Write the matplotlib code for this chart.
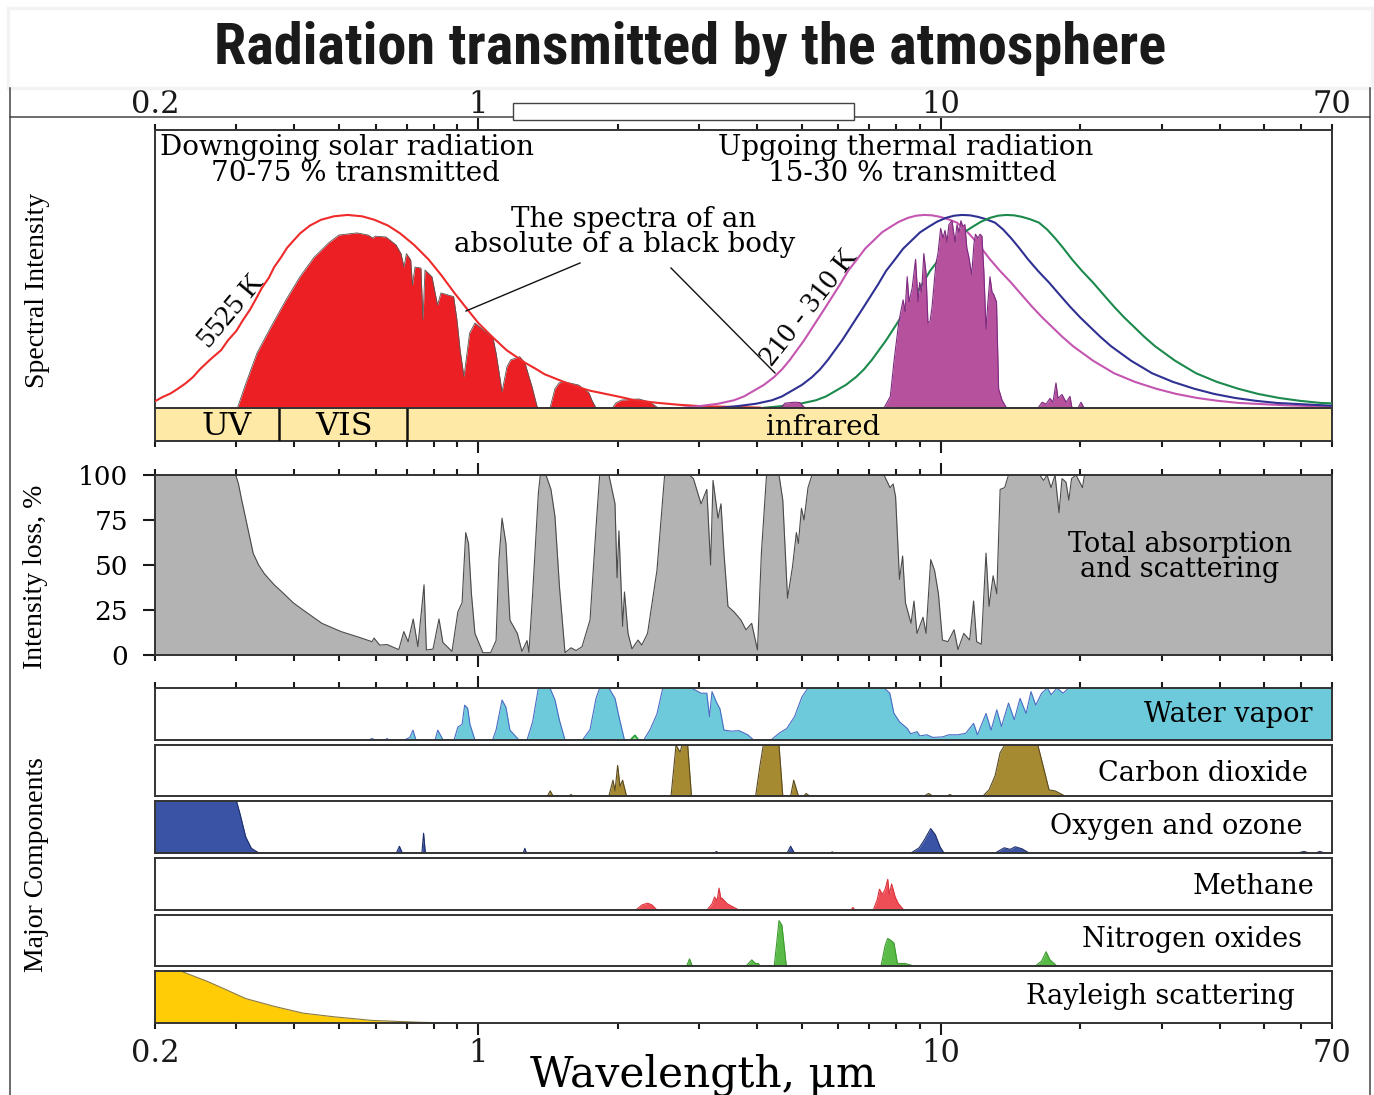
import matplotlib
matplotlib.use("Agg")
import matplotlib.pyplot as plt
from matplotlib.ticker import FixedLocator, NullFormatter
from matplotlib.patches import Rectangle
from matplotlib.lines import Line2D
from matplotlib.transforms import blended_transform_factory

W, H = 1374, 1095

# wavelength axis (micrometres)
axis_numbers = [0.2, 1, 10, 70]
axis_number_labels = ["0.2", "1", "10", "70"]
major_wl = [1, 10]
minor_wl = [0.2, 0.3, 0.4, 0.5, 0.6, 0.7, 0.8, 0.9, 2, 3, 4, 5, 6, 7, 8, 9,
            20, 30, 40, 50, 60, 70]

band_names = ["UV", "VIS", "infrared"]
band_edges = [0.2, 0.37, 0.70, 70]

# black body 5525 K (relative intensity)
sun_bb = [(0.2, 0.035), (0.207, 0.055), (0.216, 0.075), (0.2242, 0.1), (0.233, 0.128),
          (0.2416, 0.16), (0.250, 0.2), (0.263, 0.25), (0.278, 0.30), (0.2875, 0.35),
          (0.300, 0.40), (0.3098, 0.455), (0.321, 0.51), (0.3306, 0.565), (0.340, 0.62),
          (0.3526, 0.675), (0.362, 0.73), (0.3744, 0.78), (0.386, 0.83), (0.3995, 0.87),
          (0.412, 0.905), (0.4325, 0.945), (0.457, 0.975), (0.4874, 0.993), (0.521, 1.0),
          (0.5603, 0.993), (0.596, 0.975), (0.6377, 0.945), (0.677, 0.905), (0.7259, 0.845),
          (0.78, 0.77), (0.8302, 0.69), (0.885, 0.60), (0.9401, 0.52), (1.0, 0.44),
          (1.070, 0.37), (1.15, 0.30), (1.26, 0.235), (1.326, 0.205), (1.39, 0.175),
          (1.53, 0.135), (1.658, 0.105), (1.74, 0.09), (2.0, 0.06), (2.181, 0.04),
          (2.43, 0.027), (2.701, 0.017), (3.0, 0.01), (4.06, 0.002)]

# solar radiation reaching the ground
sun_ground = [(0.3014, 0), (0.3146, 0.13), (0.3323, 0.285), (0.3561, 0.42), (0.3838, 0.56),
              (0.4115, 0.68), (0.4411, 0.78), (0.4744, 0.855), (0.4995, 0.896), (0.5464, 0.907),
              (0.5772, 0.896), (0.5918, 0.88), (0.598, 0.89), (0.6313, 0.886), (0.6636, 0.845),
              (0.6803, 0.80), (0.6906, 0.73), (0.6989, 0.80), (0.714, 0.767), (0.7204, 0.637),
              (0.7294, 0.73), (0.7513, 0.725), (0.7589, 0.456), (0.7666, 0.715), (0.7937, 0.68),
              (0.8159, 0.534), (0.8302, 0.596), (0.884, 0.577), (0.899, 0.456), (0.913, 0.30),
              (0.9308, 0.162), (0.9572, 0.388), (0.983, 0.44), (1.0755, 0.363), (1.092, 0.285),
              (1.125, 0.085), (1.153, 0.214), (1.174, 0.249), (1.228, 0.266), (1.261, 0.233),
              (1.306, 0.11), (1.342, 0), (1.428, 0), (1.464, 0.1), (1.494, 0.13), (1.531, 0.136),
              (1.647, 0.119), (1.734, 0.078), (1.76, 0.04), (1.796, 0), (1.95, 0), (1.98, 0.025),
              (2.038, 0.041), (2.224, 0.047), (2.35, 0.03), (2.432, 0.005), (2.45, 0)]

# black bodies 310 K, 260 K, 210 K
bb_310_wl = [2.73, 3.013, 3.296, 3.568, 3.752, 3.943, 4.144, 4.355, 4.532, 4.716,
             4.883, 5.057, 5.315, 5.587, 5.814, 6.050, 6.296, 6.584, 6.852, 7.166,
             7.457, 7.798, 8.115, 8.486, 8.831, 9.190, 9.562, 9.950, 10.355, 10.829,
             11.270, 11.727, 12.203, 12.762, 13.413, 14.167, 14.891, 15.730, 16.533, 17.378,
             18.265, 19.293, 21.310, 23.658, 26.264, 29.158, 32.211, 35.760, 39.700, 44.074,
             55.41, 70]
bb_310_val = [0, 0.01, 0.022, 0.04, 0.06, 0.09, 0.12, 0.16, 0.20, 0.25,
              0.30, 0.35, 0.43, 0.51, 0.575, 0.64, 0.71, 0.77, 0.825, 0.87,
              0.91, 0.94, 0.965, 0.985, 0.996, 1.0, 0.998, 0.99, 0.978, 0.96,
              0.925, 0.88, 0.83, 0.77, 0.71, 0.65, 0.59, 0.525, 0.47, 0.42,
              0.37, 0.32, 0.245, 0.18, 0.135, 0.10, 0.073, 0.052, 0.037, 0.026,
              0.014, 0.007]
bb_260_wl = [3.298, 3.640, 3.982, 4.311, 4.533, 4.764, 5.007, 5.262, 5.476, 5.698,
             5.900, 6.110, 6.422, 6.750, 7.025, 7.310, 7.607, 7.955, 8.279, 8.658,
             9.010, 9.422, 9.805, 10.253, 10.670, 11.103, 11.553, 12.022, 12.511, 13.084,
             13.616, 14.169, 14.744, 15.419, 16.206, 17.117, 17.991, 19.005, 19.975, 20.996,
             22.068, 23.310, 25.747, 28.584, 31.732, 35.229, 38.917, 43.205, 47.966, 53.250,
             66.95, 70]
bb_260_val = [0, 0.01, 0.022, 0.04, 0.06, 0.09, 0.12, 0.16, 0.20, 0.25,
              0.30, 0.35, 0.43, 0.51, 0.575, 0.64, 0.71, 0.77, 0.825, 0.87,
              0.91, 0.94, 0.965, 0.985, 0.996, 1.0, 0.998, 0.99, 0.978, 0.96,
              0.925, 0.88, 0.83, 0.77, 0.71, 0.65, 0.59, 0.525, 0.47, 0.42,
              0.37, 0.32, 0.245, 0.18, 0.135, 0.10, 0.073, 0.052, 0.037, 0.026,
              0.014, 0.012]
bb_210_wl = [4.105, 4.531, 4.957, 5.366, 5.642, 5.930, 6.232, 6.549, 6.815, 7.092,
             7.343, 7.605, 7.993, 8.402, 8.743, 9.098, 9.468, 9.901, 10.304, 10.776,
             11.214, 11.727, 12.203, 12.761, 13.280, 13.820, 14.379, 14.963, 15.572, 16.285,
             16.948, 17.635, 18.351, 19.191, 20.171, 21.304, 22.393, 23.655, 24.862, 26.133,
             27.467, 29.013, 32.046, 35.577, 39.496, 43.848, 48.439, 53.776, 59.701, 66.279,
             70]
bb_210_val = [0, 0.01, 0.022, 0.04, 0.06, 0.09, 0.12, 0.16, 0.20, 0.25,
              0.30, 0.35, 0.43, 0.51, 0.575, 0.64, 0.71, 0.77, 0.825, 0.87,
              0.91, 0.94, 0.965, 0.985, 0.996, 1.0, 0.998, 0.99, 0.978, 0.96,
              0.925, 0.88, 0.83, 0.77, 0.71, 0.65, 0.59, 0.525, 0.47, 0.42,
              0.37, 0.32, 0.245, 0.18, 0.135, 0.10, 0.073, 0.052, 0.037, 0.026,
              0.024]

# thermal radiation escaping to space
earth_space = [(4.5, 0), (4.6, 0.025), (4.83, 0.03), (4.95, 0.028), (5.08, 0),
               (7.53, 0), (7.77, 0.06), (7.92, 0.25), (8.11, 0.45), (8.28, 0.56), (8.36, 0.50),
               (8.45, 0.68), (8.53, 0.55), (8.66, 0.62), (8.81, 0.77), (8.92, 0.55), (8.99, 0.65),
               (9.08, 0.60), (9.18, 0.80), (9.28, 0.70), (9.37, 0.44), (9.47, 0.45), (9.56, 0.52),
               (9.75, 0.75), (9.85, 0.80), (9.98, 0.93), (10.10, 0.88), (10.20, 0.92),
               (10.30, 0.86), (10.40, 0.95), (10.56, 0.97), (10.72, 0.86), (10.83, 0.95),
               (10.94, 0.91), (11.04, 0.97), (11.15, 0.94), (11.26, 0.95), (11.37, 0.83),
               (11.49, 0.78), (11.65, 0.69), (11.78, 0.85), (11.87, 0.90), (12.02, 0.88),
               (12.14, 0.90), (12.26, 0.89), (12.38, 0.70), (12.51, 0.41), (12.63, 0.55),
               (12.76, 0.68), (12.89, 0.60), (12.99, 0.59), (13.18, 0.55), (13.32, 0.10),
               (13.55, 0.04), (13.86, 0),
               (16.21, 0), (16.54, 0.03), (16.87, 0.02), (17.20, 0.05), (17.46, 0.03),
               (17.72, 0.13), (17.90, 0.05), (18.26, 0.07), (18.63, 0.03), (19.00, 0.06),
               (19.19, 0), (19.78, 0), (20.07, 0.03), (20.37, 0)]

# total absorption and scattering, %
loss = [(0.2, 100), (0.299, 100), (0.303, 95), (0.308, 86), (0.317, 71), (0.326, 56.5),
        (0.335, 50), (0.345, 45), (0.362, 39), (0.380, 34), (0.398, 29), (0.418, 25),
        (0.459, 17.6), (0.505, 13), (0.55, 10), (0.589, 7.4),
        (0.595, 9.4), (0.612, 5.5), (0.635, 5.8), (0.673, 3), (0.690, 13), (0.705, 7.4),
        (0.723, 20), (0.740, 4.6), (0.763, 39), (0.772, 2.8), (0.798, 3.3), (0.822, 20),
        (0.838, 7), (0.877, 2), (0.903, 24), (0.922, 29), (0.939, 68), (0.952, 62),
        (0.966, 34), (0.983, 12), (1.023, 1.3), (1.063, 1.3), (1.092, 8), (1.108, 53),
        (1.125, 76), (1.147, 62), (1.170, 19.4), (1.214, 12), (1.242, 2), (1.274, 8),
        (1.286, 1.5), (1.310, 34), (1.348, 90), (1.361, 100), (1.400, 100), (1.435, 92),
        (1.464, 77), (1.497, 38), (1.539, 1.3), (1.586, 4), (1.626, 2.5), (1.675, 4.6),
        (1.743, 19.4), (1.796, 71), (1.829, 100), (1.915, 100), (1.974, 84), (1.994, 43),
        (2.013, 69), (2.050, 16), (2.069, 35), (2.106, 12), (2.148, 3.4), (2.213, 8.3),
        (2.255, 5.5), (2.321, 12), (2.432, 47), (2.527, 100), (2.861, 100), (2.916, 98),
        (3.029, 84), (3.117, 92), (3.177, 50), (3.215, 97), (3.296, 76), (3.345, 84),
        (3.395, 56.5), (3.463, 27), (3.568, 24), (3.695, 19.4), (3.788, 14), (3.897, 17.6),
        (4.011, 2.8), (4.090, 56.6), (4.196, 100), (4.465, 100), (4.550, 86), (4.658, 31.5),
        (4.775, 49), (4.868, 68), (4.917, 62), (4.993, 81.5), (5.057, 75), (5.158, 93),
        (5.262, 100), (7.530, 100), (7.759, 93), (7.88, 95), (7.976, 88), (8.133, 42),
        (8.260, 55), (8.377, 29), (8.613, 17.6), (8.741, 30), (8.873, 12), (9.143, 21),
        (9.281, 12), (9.500, 53), (9.683, 47), (9.872, 34), (10.07, 8.3), (10.35, 7.4),
        (10.67, 14), (10.88, 3), (11.20, 12), (11.53, 8.3), (11.76, 30), (11.94, 7.4),
        (12.22, 6), (12.51, 56.6), (12.70, 27), (12.96, 44), (13.20, 34), (13.42, 92),
        (13.73, 93), (13.99, 100), (16.34, 100), (16.66, 97), (16.95, 100), (17.29, 93),
        (17.64, 100), (17.99, 79), (18.26, 98), (18.63, 96), (18.89, 86), (19.15, 98),
        (19.58, 100), (20.22, 93), (20.42, 100), (70, 100)]

# major components (relative absorption)
water_vapor = [(0.58, 0), (0.589, 0.03), (0.597, 0), (0.63, 0), (0.635, 0.03), (0.64, 0),
               (0.692, 0), (0.711, 0.05), (0.722, 0.19), (0.733, 0), (0.806, 0), (0.817, 0.19),
               (0.839, 0), (0.886, 0), (0.903, 0.25), (0.922, 0.3), (0.934, 0.67), (0.948, 0.61),
               (0.959, 0.3), (0.983, 0), (1.073, 0), (1.092, 0.19), (1.125, 0.77), (1.147, 0.63),
               (1.170, 0.19), (1.224, 0), (1.274, 0), (1.310, 0.35), (1.348, 1.0), (1.428, 1.0),
               (1.464, 0.77), (1.497, 0.38), (1.539, 0), (1.679, 0), (1.743, 0.2), (1.796, 0.8),
               (1.829, 1.0), (1.915, 1.0), (1.974, 0.8), (2.013, 0.45), (2.069, 0), (2.277, 0),
               (2.350, 0.2), (2.432, 0.5), (2.504, 1.0), (2.888, 1.0), (3.029, 0.9), (3.117, 0.9),
               (3.159, 0.45), (3.199, 0.93), (3.269, 0.73), (3.328, 0.6), (3.395, 0.19),
               (3.528, 0.17), (3.658, 0.18), (3.823, 0.1), (3.935, 0), (4.291, 0), (4.465, 0.13),
               (4.640, 0.22), (4.824, 0.45), (5.005, 0.83), (5.158, 1.0), (7.530, 1.0),
               (7.751, 0.9), (7.904, 0.52), (8.133, 0.35), (8.456, 0.22), (8.6, 0.12),
               (8.873, 0.16), (9.0, 0.08), (9.318, 0.1), (9.6, 0.05), (10.07, 0.06),
               (10.4, 0.1), (10.88, 0.1), (11.31, 0.13), (11.76, 0.32), (11.99, 0.1),
               (12.51, 0.51), (12.83, 0.19), (13.20, 0.58), (13.51, 0.26), (13.99, 0.71),
               (14.40, 0.39), (14.82, 0.80), (15.27, 0.51), (15.65, 0.93), (16.02, 0.67),
               (16.50, 0.9), (16.98, 1.0), (17.30, 0.87), (17.81, 1.0), (18.35, 0.9),
               (18.89, 1.0), (70, 1.0)]
water_vapor_green = [(2.13, 0), (2.18, 0.09), (2.22, 0)]
carbon_dioxide = [(1.41, 0), (1.43, 0.1), (1.45, 0), (1.57, 0), (1.586, 0.03), (1.60, 0),
                  (1.915, 0), (1.954, 0.31), (1.974, 0.1), (2.0, 0.6), (2.024, 0.19),
                  (2.05, 0.31), (2.09, 0), (2.609, 0), (2.648, 0.6), (2.674, 1.0), (2.729, 0.86),
                  (2.755, 1.0), (2.834, 1.0), (2.888, 0), (3.975, 0), (4.062, 0.6), (4.129, 1.0),
                  (4.465, 1.0), (4.55, 0), (4.731, 0), (4.804, 0.31), (4.917, 0), (5.05, 0),
                  (5.108, 0.05), (5.2, 0), (9.2, 0), (9.4, 0.05), (9.6, 0), (10.3, 0),
                  (10.45, 0.03), (10.6, 0), (12.32, 0), (12.70, 0.12), (13.09, 0.4),
                  (13.42, 0.85), (13.73, 1.0), (16.19, 1.0), (16.61, 0.6), (17.12, 0.12),
                  (17.64, 0.1), (18.54, 0)]
oxygen_ozone = [(0.2, 1.0), (0.3, 1.0), (0.3052, 0.76), (0.3141, 0.31), (0.3231, 0.09),
                (0.3356, 0), (0.665, 0), (0.675, 0.13), (0.685, 0), (0.755, 0), (0.7613, 0.38),
                (0.768, 0), (1.25, 0), (1.26, 0.09), (1.27, 0), (3.24, 0), (3.27, 0.03),
                (3.30, 0), (4.65, 0), (4.73, 0.13), (4.82, 0), (5.75, 0), (5.82, 0.02), (5.9, 0),
                (8.61, 0), (8.97, 0.1), (9.2, 0.25), (9.5, 0.47), (9.72, 0.35), (9.95, 0.12),
                (10.15, 0), (13.09, 0), (13.7, 0.1), (14.1, 0.07), (14.47, 0.12), (14.97, 0.08),
                (15.5, 0), (59, 0), (60.9, 0.03), (62.5, 0), (64.5, 0), (65.9, 0.03), (67.5, 0)]
methane = [(2.19, 0), (2.26, 0.1), (2.321, 0.13), (2.37, 0.1), (2.432, 0), (3.12, 0),
           (3.2, 0.12), (3.239, 0.25), (3.28, 0.18), (3.313, 0.42), (3.345, 0.2), (3.36, 0.23),
           (3.45, 0.12), (3.55, 0.06), (3.658, 0), (6.39, 0), (6.45, 0.05), (6.51, 0),
           (7.14, 0), (7.28, 0.2), (7.36, 0.4), (7.47, 0.3), (7.57, 0.4), (7.67, 0.59),
           (7.73, 0.3), (7.82, 0.5), (7.96, 0.25), (8.09, 0.12), (8.31, 0)]
nitrogen_oxides = [(2.82, 0), (2.86, 0.14), (2.90, 0), (3.79, 0), (3.9, 0.12), (3.97, 0.05),
                   (4.03, 0.05), (4.06, 0), (4.36, 0), (4.42, 0.5), (4.465, 0.89), (4.53, 0.8),
                   (4.63, 0), (7.42, 0), (7.57, 0.4), (7.67, 0.54), (7.80, 0.5), (7.91, 0.45),
                   (8.05, 0.05), (8.36, 0.05), (8.74, 0), (16.0, 0), (16.5, 0.1), (16.87, 0.28),
                   (17.2, 0.12), (17.8, 0)]
rayleigh = [(0.2, 1.0), (0.227, 1.0), (0.2596, 0.8), (0.285, 0.64), (0.3141, 0.47),
            (0.3658, 0.31), (0.4177, 0.19), (0.4867, 0.12), (0.5888, 0.05), (0.7404, 0.015),
            (0.8619, 0)]

components = [("Water vapor", water_vapor, "#6dcadb", "#4a6cc4"),
              ("Carbon dioxide", carbon_dioxide, "#a68a32", "#5a4a20"),
              ("Oxygen and ozone", oxygen_ozone, "#3a53a4", "#1e2d6a"),
              ("Methane", methane, "#ee4e56", "#d9343c"),
              ("Nitrogen oxides", nitrogen_oxides, "#5bbb48", "#3c9a30"),
              ("Rayleigh scattering", rayleigh, "#ffcc06", "#8a7a40")]

plt.rcParams["font.family"] = ["DejaVu Serif"]
fig = plt.figure(figsize=(W / 100, H / 100), dpi=100)


def px_box(x0, y0, x1, y1):
    return [x0 / W, 1 - y1 / H, (x1 - x0) / W, (y1 - y0) / H]


def ftext(x, y, s, **kw):
    return fig.text(x / W, 1 - y / H, s, **kw)


def fline(xs, ys, **kw):
    fig.add_artist(Line2D([x / W for x in xs], [1 - y / H for y in ys],
                          transform=fig.transFigure, **kw))


def style_x(ax, top=False, bottom=False):
    ax.set_xscale("log")
    ax.set_xlim(0.2, 70)
    ax.xaxis.set_major_locator(FixedLocator(major_wl))
    ax.xaxis.set_minor_locator(FixedLocator(minor_wl))
    ax.xaxis.set_major_formatter(NullFormatter())
    ax.xaxis.set_minor_formatter(NullFormatter())
    ax.tick_params(axis="x", which="both", direction="out", top=top, bottom=bottom,
                   labelbottom=False, labeltop=False, width=1.5, color="#1a1a1a")
    ax.tick_params(axis="x", which="major", length=8.5)
    ax.tick_params(axis="x", which="minor", length=4.5)
    for sp in ax.spines.values():
        sp.set_color("#333333")
        sp.set_linewidth(1.4)


def split(points):
    return [p[0] for p in points], [p[1] for p in points]


# ---- page frame and title ----
fig.add_artist(Rectangle((8 / W, 1 - 88 / H), 1364 / W, 80 / H, transform=fig.transFigure,
                         facecolor="none", edgecolor="#f3f3f3", lw=2.5))
fline([10, 10], [88, 1095], color="#444444", lw=1.1)
fline([1370, 1370], [88, 1095], color="#444444", lw=1.1)
fline([10, 1370], [117, 117], color="#444444", lw=1.1)
fig.add_artist(Rectangle((513 / W, 1 - 120 / H), 341 / W, 17 / H, transform=fig.transFigure,
                         facecolor="white", edgecolor="#444444", lw=1.0, zorder=5))
ftext(690, 64, "Radiation transmitted by the atmosphere", ha="center", va="baseline",
      fontsize=42, fontweight="bold",
      family=["Roboto Condensed", "Liberation Sans Narrow", "Roboto", "DejaVu Sans"],
      color="#1a1a1a")

# ---- top panel: spectral intensity ----
ax = fig.add_axes(px_box(155, 130, 1332, 441))
style_x(ax, top=True, bottom=True)
ax.set_ylim(-0.171, 1.44)
ax.set_yticks([])
ax.axhspan(-0.171, 0, color="#feeaa6", zorder=1)
ax.axhline(0, color="#333333", lw=1.4, zorder=5)
ax.vlines(band_edges[1:3], -0.171, 0, color="#111111", lw=1.8, zorder=5)

x, y = split(sun_ground)
ax.fill_between(x, y, 0, color="#ec2024", lw=0, zorder=2)
ax.plot(x, y, color="#555555", lw=0.6, zorder=2)
x, y = split(sun_bb)
ax.plot(x, y, color="#ee2a2a", lw=1.5, zorder=3, solid_joinstyle="round")
for wl, val, col in [(bb_310_wl, bb_310_val, "#c455b0"),
                     (bb_260_wl, bb_260_val, "#2e3192"),
                     (bb_210_wl, bb_210_val, "#1b8a4c")]:
    ax.plot(wl, val, color=col, lw=1.5, zorder=3, solid_joinstyle="round")
x, y = split(earth_space)
ax.fill_between(x, y, 0, color="#b5519d", lw=0, zorder=4)
ax.plot(x, y, color="#7d2a80", lw=0.8, zorder=4)

trans_top = blended_transform_factory(ax.transData, fig.transFigure)
for wl, lab in zip(axis_numbers, axis_number_labels):
    ax.text(wl, 1 - 113 / H, lab, transform=trans_top, ha="center", va="baseline",
            fontsize=22, color="#1a1a1a")

ftext(347, 155, "Downgoing solar radiation", ha="center", va="baseline", fontsize=20)
ftext(355, 181, "70-75 % transmitted", ha="center", va="baseline", fontsize=20)
ftext(906, 155, "Upgoing thermal radiation", ha="center", va="baseline", fontsize=20)
ftext(912, 181, "15-30 % transmitted", ha="center", va="baseline", fontsize=20)
ftext(634, 227, "The spectra of an", ha="center", va="baseline", fontsize=20)
ftext(625, 252, "absolute of a black body", ha="center", va="baseline", fontsize=20)
fline([580, 466], [263, 311], color="#111111", lw=1.0)
fline([671, 775], [268, 373], color="#111111", lw=1.0)
ftext(231, 311, "5525 K", ha="center", va="center", rotation=50, fontsize=21,
      family="Liberation Serif")
ftext(810, 308, "210 - 310 K", ha="center", va="center", rotation=52, fontsize=21,
      family="Liberation Serif")
for name, cx, fs in zip(band_names, [227, 344, 823], [23, 23, 20]):
    ftext(cx, 435, name, ha="center", va="baseline", fontsize=fs)

# ---- middle panel: total absorption ----
ax = fig.add_axes(px_box(155, 475, 1332, 655))
style_x(ax, top=True, bottom=True)
ax.set_ylim(0, 100)
ax.set_yticks([0, 25, 50, 75, 100])
ax.tick_params(axis="y", direction="out", length=8.5, width=1.5, labelsize=19, pad=11,
               color="#1a1a1a")
x, y = split(loss)
ax.fill_between(x, y, 0, color="#b3b3b3", lw=0)
ax.plot(x, y, color="#4a4a4a", lw=0.8)
ftext(1180, 552, "Total absorption", ha="center", va="baseline", fontsize=19.5)
ftext(1180, 577, "and scattering", ha="center", va="baseline", fontsize=19.5)

# ---- bottom panels: major components ----
rows = [(688, 740), (745, 796), (801, 853), (858, 910), (915, 966), (971, 1023)]
label_right = [1312, 1308, 1302, 1314, 1302, 1295]
label_base = [722, 781, 834, 894, 947, 1004]
for i, ((name, pts, fc, ec), (y0, y1)) in enumerate(zip(components, rows)):
    ax = fig.add_axes(px_box(155, y0, 1332, y1))
    style_x(ax, top=(i == 0), bottom=(i == len(rows) - 1))
    ax.set_ylim(0, 1)
    ax.set_yticks([])
    x, y = split(pts)
    ax.fill_between(x, y, 0, color=fc, lw=0)
    ax.plot(x, y, color=ec, lw=0.8)
    if i == 0:
        x, y = split(water_vapor_green)
        ax.fill_between(x, y, 0, color="#9fdc9f", lw=0)
        ax.plot(x, y, color="#1aa032", lw=1.2)
    ftext(label_right[i], label_base[i], name, ha="right", va="baseline", fontsize=19.5)
    if i == len(rows) - 1:
        trans_bot = blended_transform_factory(ax.transData, fig.transFigure)
        for wl, lab in zip(axis_numbers, axis_number_labels):
            ax.text(wl, 1 - 1062 / H, lab, transform=trans_bot, ha="center",
                    va="baseline", fontsize=22, color="#1a1a1a")

ftext(703, 1087, "Wavelength, \u03bcm", ha="center", va="baseline", fontsize=30.5)

# ---- rotated side labels ----
ftext(38, 290, "Spectral Intensity", ha="center", va="center", rotation=90, fontsize=20,
      family="Liberation Serif")
ftext(36, 577, "Intensity loss, %", ha="center", va="center", rotation=90, fontsize=20,
      family="Liberation Serif")
ftext(37, 865, "Major Components", ha="center", va="center", rotation=90, fontsize=20,
      family="Liberation Serif")

fig.savefig("out.png", dpi=100)
